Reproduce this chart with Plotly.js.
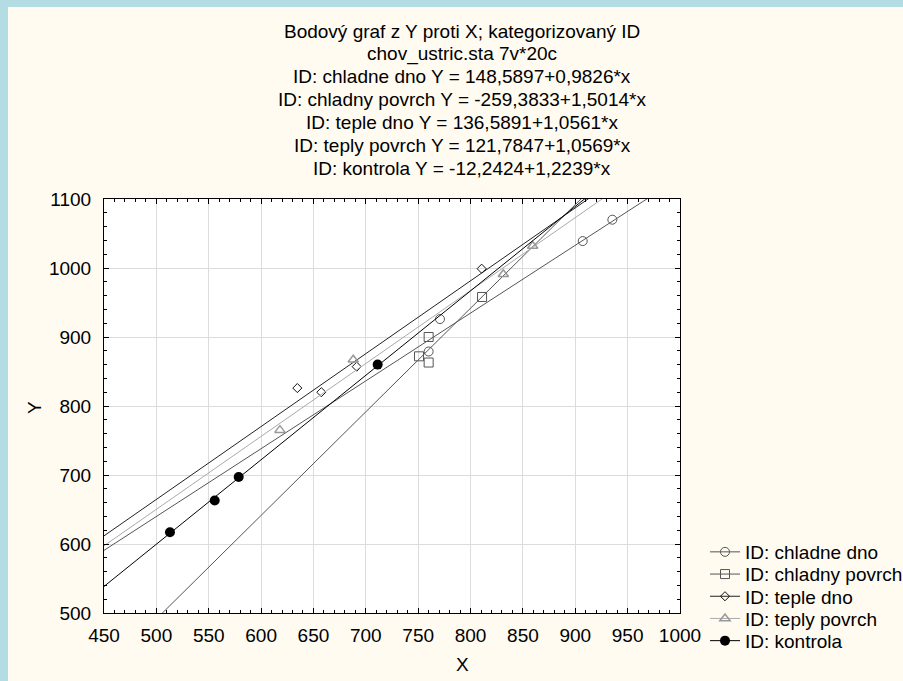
<!DOCTYPE html>
<html>
<head>
<meta charset="utf-8">
<script src="https://cdn.plot.ly/plotly-3.0.1.min.js"></script>
<style>
  html, body { margin: 0; padding: 0; background: #B4DDE3; width: 903px; height: 681px; overflow: hidden; }
  #chart { position: absolute; left: 8px; top: 7px; width: 895px; height: 674px; }
</style>
</head>
<body>
<div id="chart"></div>
<script>
// ---- data ----
const categories = ['ID: chladne dno', 'ID: chladny povrch', 'ID: teple dno', 'ID: teply povrch', 'ID: kontrola'];

const chladneDnoX = [760, 770.8, 907.1, 935.4];
const chladneDnoY = [879, 926, 1039, 1070];

const chladnyPovrchX = [750.8, 760, 760, 811];
const chladnyPovrchY = [872, 900, 863, 958];

const tepleDnoX = [634.6, 657.5, 691.3, 810.6];
const tepleDnoY = [826, 820, 857, 999];

const teplyPovrchX = [618, 688, 831.3, 859.3];
const teplyPovrchY = [765, 867, 991, 1032];

const kontrolaX = [513, 555.7, 578.6, 711.3];
const kontrolaY = [617, 663, 697, 860];

// regression coefficients (from the chart's title)
const intercepts = [148.5897, -259.3833, 136.5891, 121.7847, -12.2424];
const slopes = [0.9826, 1.5014, 1.0561, 1.0569, 1.2239];
const fitRangeX = [400, 1050];

const titleLines = [
  'Bodový graf z Y proti X; kategorizovaný ID',
  'chov_ustric.sta 7v*20c',
  'ID: chladne dno Y = 148,5897+0,9826*x',
  'ID: chladny povrch Y = -259,3833+1,5014*x',
  'ID: teple dno Y = 136,5891+1,0561*x',
  'ID: teply povrch Y = 121,7847+1,0569*x',
  'ID: kontrola Y = -12,2424+1,2239*x'
];

const xRange = [450, 1000];
const yRange = [500, 1100];
const xTickStep = 50, xMinorStep = 10;
const yTickStep = 100, yMinorStep = 20;

// ---- layout helpers ----
const OFF_X = 8, OFF_Y = 7, DIV_W = 895, DIV_H = 674;
const PL = 104, PR = 680, PT = 199, PB = 613;
const PW = PR - PL, PH = PB - PT;
const px = x => (x - PL) / PW;
const py = y => (PB - y) / PH;

const FONT = '"Liberation Sans", Arial, sans-serif';
const TEXTFONT = {family: FONT, size: 19, color: '#000', weight: 'normal'};

const xs = [chladneDnoX, chladnyPovrchX, tepleDnoX, teplyPovrchX, kontrolaX];
const ys = [chladneDnoY, chladnyPovrchY, tepleDnoY, teplyPovrchY, kontrolaY];
const markerStyles = [
  {symbol: 'circle-open', size: 9, color: '#555555', line: {width: 1, color: '#555555'}},
  {symbol: 'square-open', size: 9, color: '#555555', line: {width: 1, color: '#555555'}},
  {symbol: 'diamond-open', size: 7, color: '#111111', line: {width: 1, color: '#111111'}},
  {symbol: 'triangle-up-open', size: 9, color: '#999999', line: {width: 1.5, color: '#999999'}},
  {symbol: 'circle', size: 10, color: '#000000', line: {width: 0, color: '#000000'}}
];
const lineColors = ['#555555', '#555555', '#222222', '#aaaaaa', '#000000'];

const traces = [];
const legendNames = ['legend', 'legend2', 'legend3', 'legend4', 'legend5'];
for (let i = 0; i < categories.length; i++) {
  const fy = fitRangeX.map(x => intercepts[i] + slopes[i] * x);
  traces.push({
    type: 'scatter', mode: 'lines+markers', name: categories[i],
    x: fitRangeX, y: fy,
    line: {color: lineColors[i], width: 1},
    marker: markerStyles[i],
    legend: legendNames[i],
    cliponaxis: true, hoverinfo: 'skip'
  });
  traces.push({
    type: 'scatter', mode: 'markers', name: categories[i], showlegend: false,
    x: xs[i], y: ys[i], marker: markerStyles[i], cliponaxis: true
  });
}

const legendTextX = 745, legendY0 = 552, legendDY = 22.2;
const layout = {
  width: DIV_W, height: DIV_H,
  paper_bgcolor: '#FFFBF1', plot_bgcolor: '#FFFFFF',
  margin: {l: PL - OFF_X, r: (OFF_X + DIV_W) - PR, t: PT - OFF_Y, b: (OFF_Y + DIV_H) - PB, pad: 0, autoexpand: false},
  font: TEXTFONT,
  showlegend: true,
  xaxis: {
    range: xRange, tickmode: 'linear', tick0: xRange[0], dtick: xTickStep,
    ticks: 'inside', ticklen: 5, tickcolor: '#000', tickwidth: 1,
    showline: true, linecolor: '#000', linewidth: 1, mirror: 'allticks',
    showgrid: true, gridcolor: '#dcdcdc', gridwidth: 1, zeroline: false, automargin: false,
    tickfont: TEXTFONT, ticklabelstandoff: 5
  },
  yaxis: {
    range: yRange, tickmode: 'linear', tick0: yRange[0], dtick: yTickStep,
    ticks: 'inside', ticklen: 5, tickcolor: '#000', tickwidth: 1,
    showline: true, linecolor: '#000', linewidth: 1, mirror: 'allticks',
    showgrid: true, gridcolor: '#dcdcdc', gridwidth: 1, zeroline: false, automargin: false,
    tickfont: TEXTFONT, ticklabelstandoff: 8
  },
  xaxis2: {
    overlaying: 'x', matches: 'x', range: xRange, tickmode: 'linear', tick0: xRange[0], dtick: xMinorStep,
    ticks: 'inside', ticklen: 3, tickcolor: '#000', tickwidth: 1, showticklabels: false,
    showline: false, mirror: 'allticks', showgrid: false, zeroline: false, automargin: false
  },
  yaxis2: {
    overlaying: 'y', matches: 'y', range: yRange, tickmode: 'linear', tick0: yRange[0], dtick: yMinorStep,
    ticks: 'inside', ticklen: 3, tickcolor: '#000', tickwidth: 1, showticklabels: false,
    showline: false, mirror: 'allticks', showgrid: false, zeroline: false, automargin: false
  },
  annotations: []
};

// an empty trace so the minor-tick axes are drawn
traces.push({type: 'scatter', mode: 'markers', x: [], y: [], xaxis: 'x2', yaxis: 'y2', showlegend: false, hoverinfo: 'skip'});

for (let i = 0; i < legendNames.length; i++) {
  layout[legendNames[i]] = {
    x: px(legendTextX - 40), y: py(legendY0 + i * legendDY),
    xanchor: 'left', yanchor: 'middle',
    bgcolor: 'rgba(0,0,0,0)', borderwidth: 0,
    font: TEXTFONT,
    itemclick: false, itemdoubleclick: false
  };
}

const titleY0 = 31, titleDY = 22.9, titleCX = 462;
titleLines.forEach((t, i) => {
  layout.annotations.push({
    text: t, xref: 'paper', yref: 'paper', x: px(titleCX), y: py(titleY0 + i * titleDY),
    xanchor: 'center', yanchor: 'middle', showarrow: false, font: TEXTFONT
  });
});
layout.annotations.push({
  text: 'X', xref: 'paper', yref: 'paper', x: px(462), y: py(664),
  xanchor: 'center', yanchor: 'middle', showarrow: false, font: TEXTFONT
});
layout.annotations.push({
  text: 'Y', xref: 'paper', yref: 'paper', x: px(34), y: py(408), textangle: -90,
  xanchor: 'center', yanchor: 'middle', showarrow: false, font: TEXTFONT
});

Plotly.newPlot('chart', traces, layout, {staticPlot: true, displayModeBar: false});
</script>
</body>
</html>
